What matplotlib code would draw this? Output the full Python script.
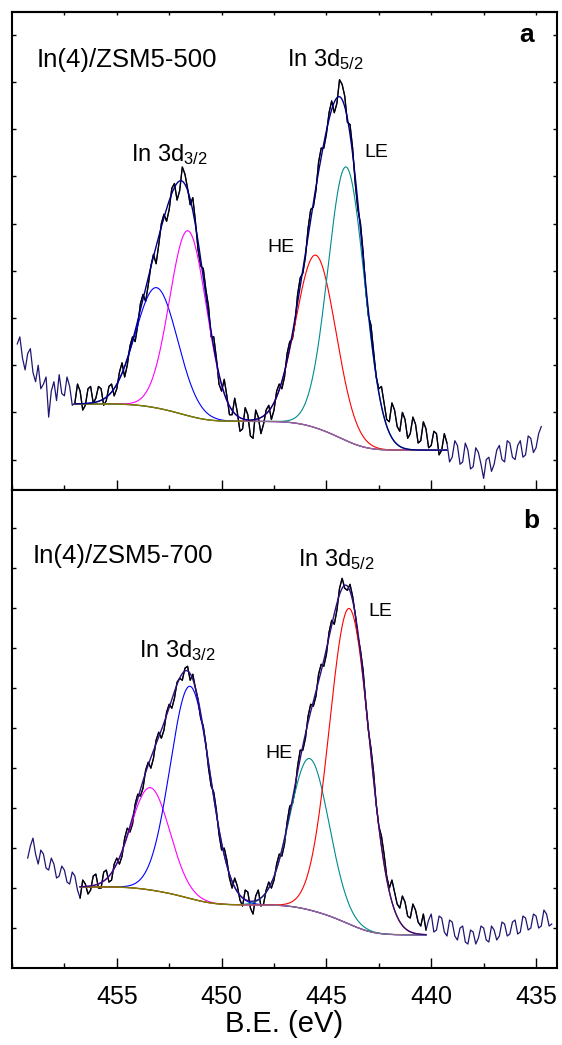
import numpy as np

import matplotlib

matplotlib.use("Agg")
import matplotlib.pyplot as plt  # noqa: E402
from matplotlib.ticker import MultipleLocator  # noqa: E402

plt.rcParams["font.family"] = ["Liberation Sans", "DejaVu Sans"]
plt.rcParams["mathtext.fontset"] = "custom"
plt.rcParams["mathtext.rm"] = "Liberation Sans"
plt.rcParams["mathtext.it"] = "Liberation Sans:italic"
plt.rcParams["mathtext.bf"] = "Liberation Sans:bold"

# ---- data (binding energy in eV, intensity in arbitrary units) ----
STEP = 0.125

# panel a: In(4)/ZSM5-500, raw spectrum from 459.75 eV downwards
raw_a_start = 459.75
raw_a = [
    3.45, 3.6, 3.15, 2.9, 3.25, 3.35, 2.85, 2.65, 3.0, 2.5,
    2.6, 2.75, 1.9, 2.45, 2.65, 2.25, 2.8, 2.4, 2.35, 2.75,
    2.55, 2.15, 2.2, 2.6, 2.45, 2.05, 2.15, 2.5, 2.55, 2.2,
    2.3, 2.55, 2.5, 2.15, 2.25, 2.55, 2.6, 2.35, 2.5, 2.85,
    3.05, 2.75, 3.0, 3.4, 3.6, 3.5, 3.85, 4.3, 4.5, 4.35,
    4.7, 5.1, 5.35, 5.15, 5.55, 6.0, 6.2, 6.05, 6.3, 6.75,
    6.85, 6.5, 6.7, 7.2, 7.05, 6.75, 6.4, 6.55, 6.05, 5.45,
    5.1, 5.05, 4.6, 4.25, 3.6, 3.6, 3.15, 2.6, 2.45, 2.7,
    2.35, 1.95, 1.95, 2.3, 2.0, 1.6, 1.65, 2.1, 1.95, 1.5,
    1.45, 2.05, 1.9, 1.55, 1.75, 2.05, 2.15, 1.85, 2.05, 2.45,
    2.6, 2.5, 2.75, 3.25, 3.5, 3.55, 3.9, 4.5, 4.85, 4.95,
    5.3, 5.9, 6.3, 6.35, 6.7, 7.3, 7.6, 7.6, 7.9, 8.35,
    8.6, 8.35, 8.55, 9.05, 8.95, 8.7, 8.15, 8.1, 7.6, 6.85,
    6.3, 6.0, 5.4, 4.6, 4.05, 3.85, 3.3, 2.75, 2.5, 2.55,
    2.2, 1.85, 1.8, 2.2, 2.05, 1.7, 1.6, 2.0, 1.85, 1.45,
    1.55, 1.9, 1.75, 1.35, 1.4, 1.8, 1.65, 1.25, 1.3, 1.6,
    1.55, 1.1, 1.2, 1.55, 1.35, 0.95, 1.05, 1.4, 1.3, 0.9,
    0.95, 1.35, 1.2, 0.8, 0.85, 1.25, 1.15, 0.9, 0.6, 1.0,
    1.05, 0.75, 0.9, 1.2, 1.3, 1.0, 0.95, 1.4, 1.35, 1.05,
    1.0, 1.3, 1.4, 1.05, 1.1, 1.5, 1.45, 1.15, 1.25, 1.55,
    1.7,
]
fit_a = (457.0, 439.25)
peak_a_center = [453.1, 451.6, 445.5, 444.05]
peak_a_height = [2.55, 3.92, 3.66, 5.8]
peak_a_sigma = [1.0, 0.88, 0.95, 0.87]
bg_a_levels = [2.18, 1.81, 1.20]

# panel b: In(4)/ZSM5-700, raw spectrum from 459.25 eV downwards
raw_b_start = 459.25
raw_b = [
    2.75, 3.05, 3.25, 2.85, 2.6, 2.95, 2.85, 2.5, 2.45, 2.75,
    2.6, 2.25, 2.3, 2.55, 2.45, 2.15, 2.1, 2.4, 2.3, 1.95,
    1.75, 2.2, 2.1, 1.85, 1.95, 2.3, 2.35, 2.0, 2.0, 2.4,
    2.45, 2.15, 2.2, 2.6, 2.75, 2.6, 2.8, 3.25, 3.5, 3.4,
    3.6, 4.1, 4.35, 4.3, 4.5, 4.95, 5.15, 5.0, 5.25, 5.7,
    5.9, 5.75, 5.95, 6.4, 6.6, 6.5, 6.75, 7.15, 7.25, 7.2,
    7.5, 7.55, 7.2, 7.35, 7.0, 6.7, 6.25, 6.05, 5.6, 5.0,
    4.55, 4.4, 3.95, 3.35, 2.95, 3.0, 2.7, 2.25, 2.0, 2.25,
    2.05, 1.7, 1.55, 1.95, 1.9, 1.5, 1.35, 1.8, 1.95, 1.55,
    1.6, 1.95, 2.15, 2.0, 2.2, 2.6, 2.85, 2.8, 3.1, 3.65,
    4.05, 4.1, 4.45, 5.05, 5.45, 5.45, 5.75, 6.3, 6.6, 6.55,
    6.8, 7.35, 7.6, 7.55, 7.85, 8.4, 8.7, 8.6, 8.95, 9.5,
    9.75, 9.5, 9.45, 9.6, 9.3, 8.85, 8.3, 7.95, 7.45, 6.65,
    5.95, 5.5, 4.9, 4.1, 3.55, 3.3, 2.85, 2.3, 2.0, 2.2,
    1.9, 1.6, 1.5, 1.8, 1.65, 1.3, 1.25, 1.6, 1.45, 1.15,
    1.05, 1.35, 0.95, 1.2, 1.35, 0.9, 0.95, 1.3, 1.25, 0.9,
    0.8, 1.2, 1.15, 0.8, 0.7, 1.0, 1.05, 0.65, 0.6, 0.95,
    0.9, 0.6, 0.75, 1.05, 1.0, 0.7, 0.65, 1.05, 0.95, 0.7,
    0.8, 1.15, 1.1, 0.8, 0.85, 1.15, 1.2, 0.85, 0.9, 1.3,
    1.25, 0.95, 1.0, 1.35, 1.3, 1.0, 1.05, 1.45, 1.35, 1.05,
    1.1,
]
fit_b = (456.75, 440.25)
peak_b_center = [453.4, 451.5, 445.8, 443.9]
peak_b_height = [2.56, 5.31, 3.79, 7.9]
peak_b_sigma = [0.93, 0.95, 0.93, 0.95]
bg_b_levels = [2.03, 1.58, 0.83]

x_ticks = [455, 450, 445, 440, 435]

RAW_NAVY = "#1e1672"
BG_LEFT = "#808000"
BG_RIGHT = "#8c6f82"


def gauss(x, c, h, s):
    return h * np.exp(-((x - c) ** 2) / (2.0 * s ** 2))


def step_fraction(g):
    # cumulative area from the low-BE end, normalised (Shirley-like step)
    c = np.cumsum(g[::-1])[::-1]
    return c / c[0]


def draw_panel(ax, raw, raw_start, fit, centers, heights, sigmas, colors,
               levels, env_color):
    raw = np.asarray(raw)
    x_raw = raw_start - STEP * np.arange(raw.size)
    ax.plot(x_raw, raw, color=RAW_NAVY, lw=0.9)
    m = (x_raw <= fit[0] + 1e-9) & (x_raw >= fit[1] - 1e-9)
    ax.plot(x_raw[m], raw[m], color="black", lw=0.9)

    x = np.linspace(fit[0], fit[1], 600)
    comps = [gauss(x, c, h, s) for c, h, s in zip(centers, heights, sigmas)]
    bg = (levels[2]
          + (levels[1] - levels[2]) * step_fraction(comps[2] + comps[3])
          + (levels[0] - levels[1]) * step_fraction(comps[0] + comps[1]))
    for comp, col in zip(comps, colors):
        ax.plot(x, bg + comp, color=col, lw=0.8)
    left = x >= 449.0
    ax.plot(x[left], bg[left], color=BG_LEFT, lw=1.0)
    ax.plot(x[~left], bg[~left], color=BG_RIGHT, lw=1.0)
    ax.plot(x, bg + sum(comps), color=env_color, lw=1.0)


def style_axes(ax, ylim, yticks, show_labels, top_ticks):
    ax.set_xlim(460, 434)
    ax.set_ylim(*ylim)
    ax.set_xticks(x_ticks)
    ax.xaxis.set_minor_locator(MultipleLocator(2.5))
    ax.set_yticks(yticks)
    ax.tick_params(axis="x", which="major", direction="in", length=7,
                   width=1.0, top=False, labelbottom=show_labels,
                   labelsize=18, pad=12)
    ax.tick_params(axis="x", which="minor", direction="in", length=3.5,
                   width=1.0, top=False)
    ax.tick_params(axis="y", which="major", direction="in", length=3,
                   width=1.0, left=True, right=True, labelleft=False)
    for sp in ax.spines.values():
        sp.set_linewidth(1.5)
    if top_ticks:
        sec = ax.secondary_xaxis("top")
        sec.set_xticks(x_ticks + [457.5, 452.5, 447.5, 442.5, 437.5])
        sec.tick_params(direction="in", length=2.5, width=1.0,
                        labeltop=False)
        sec.spines["top"].set_linewidth(1.5)


fig = plt.figure(figsize=(5.62, 10.45), dpi=100)
ax_a = fig.add_axes([12 / 562, 555 / 1045, 545 / 562, 478 / 1045])
ax_b = fig.add_axes([12 / 562, 77 / 1045, 545 / 562, 478 / 1045])

draw_panel(ax_a, raw_a, raw_a_start, fit_a, peak_a_center, peak_a_height,
           peak_a_sigma, ["#0000ff", "#ff00ff", "#ff0000", "#008b8b"],
           bg_a_levels, "#000080")
draw_panel(ax_b, raw_b, raw_b_start, fit_b, peak_b_center, peak_b_height,
           peak_b_sigma, ["#ff00ff", "#0000ff", "#008b8b", "#ff0000"],
           bg_b_levels, "#30107a")

style_axes(ax_a, (0.355, 10.485), list(range(1, 11)), False, True)
style_axes(ax_b, (0.0, 11.96), list(range(1, 12)), True, False)

tk = dict(transform=ax_a.transAxes, va="baseline")
ax_a.text(0.045, 0.885, "In(4)/ZSM5-500", fontsize=18.5, **tk)
ax_a.text(0.505, 0.887, r"In 3d$_\mathregular{5/2}$", fontsize=17, **tk)
ax_a.text(0.218, 0.688, r"In 3d$_\mathregular{3/2}$", fontsize=17, **tk)
ax_a.text(0.646, 0.697, "LE", fontsize=14, **tk)
ax_a.text(0.468, 0.498, "HE", fontsize=14, **tk)
ax_a.text(0.945, 0.937, "a", fontsize=19, fontweight="bold", ha="center",
          **tk)

tk = dict(transform=ax_b.transAxes, va="baseline")
ax_b.text(0.0385, 0.847, "In(4)/ZSM5-700", fontsize=18.5, **tk)
ax_b.text(0.525, 0.841, r"In 3d$_\mathregular{5/2}$", fontsize=17, **tk)
ax_b.text(0.233, 0.651, r"In 3d$_\mathregular{3/2}$", fontsize=17, **tk)
ax_b.text(0.653, 0.736, "LE", fontsize=14, **tk)
ax_b.text(0.464, 0.439, "HE", fontsize=14, **tk)
ax_b.text(0.952, 0.920, "b", fontsize=19, fontweight="bold", ha="center",
          **tk)

ax_b.set_xlabel("B.E. (eV)", fontsize=21, labelpad=1)

fig.savefig("out.png", dpi=100)
plt.close(fig)
